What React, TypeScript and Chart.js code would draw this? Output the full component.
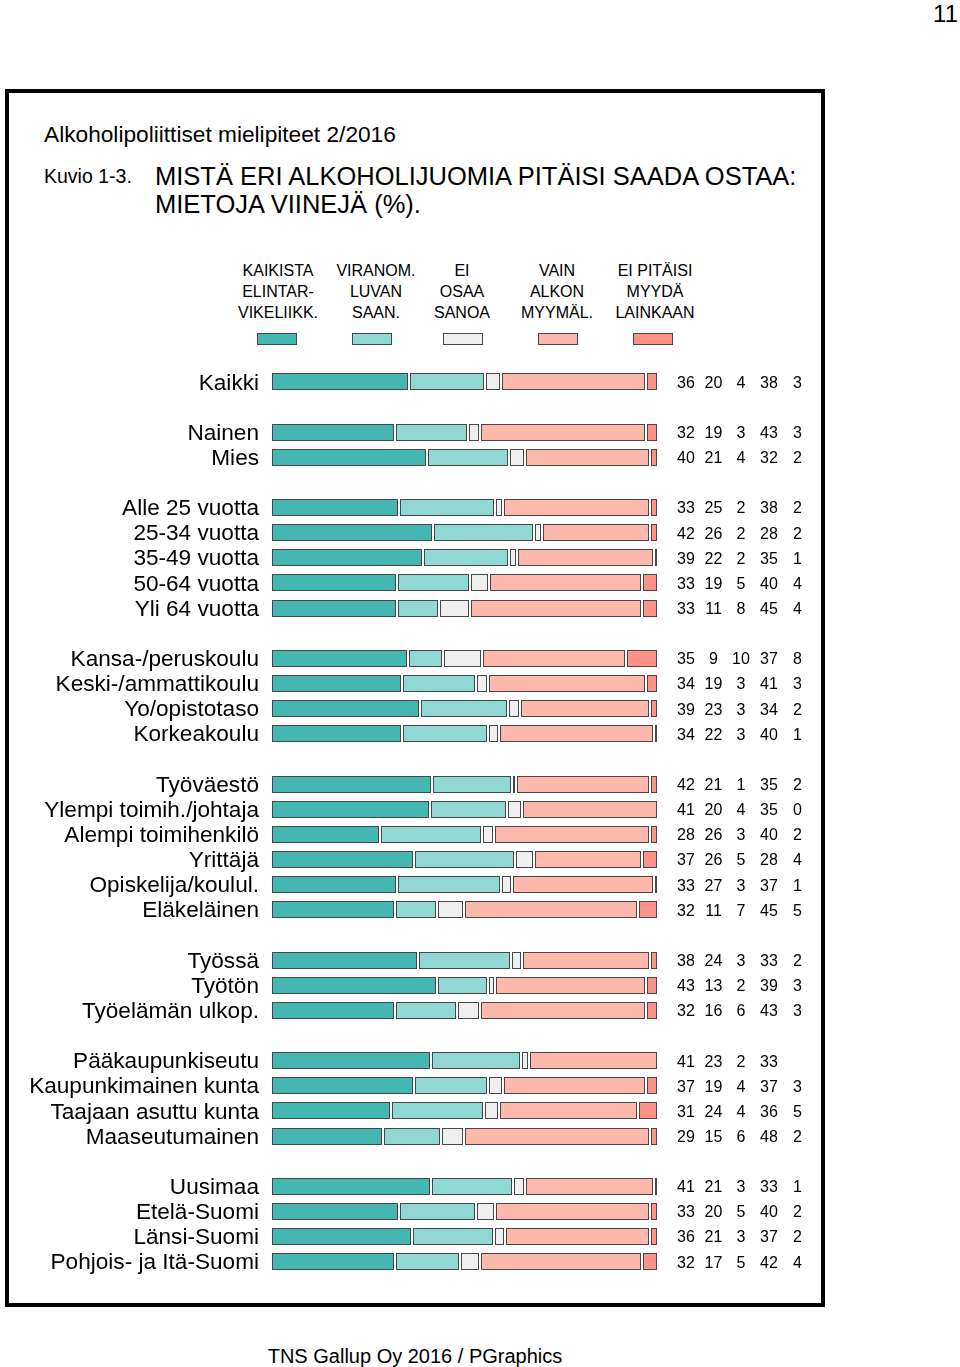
import React, { useEffect, useRef } from "react";
import { Chart, registerables } from "chart.js";

Chart.register(...registerables);

// ---------- DATA ----------
const rowLabels = [
  "Kaikki",
  "Nainen", "Mies",
  "Alle 25 vuotta", "25-34 vuotta", "35-49 vuotta", "50-64 vuotta", "Yli 64 vuotta",
  "Kansa-/peruskoulu", "Keski-/ammattikoulu", "Yo/opistotaso", "Korkeakoulu",
  "Työväestö", "Ylempi toimih./johtaja", "Alempi toimihenkilö", "Yrittäjä", "Opiskelija/koulul.", "Eläkeläinen",
  "Työssä", "Työtön", "Työelämän ulkop.",
  "Pääkaupunkiseutu", "Kaupunkimainen kunta", "Taajaan asuttu kunta", "Maaseutumainen",
  "Uusimaa", "Etelä-Suomi", "Länsi-Suomi", "Pohjois- ja Itä-Suomi",
];
const groupSizes = [1, 2, 5, 4, 6, 3, 4, 4];

const kaikista = [36, 32, 40, 33, 42, 39, 33, 33, 35, 34, 39, 34, 42, 41, 28, 37, 33, 32, 38, 43, 32, 41, 37, 31, 29, 41, 33, 36, 32];
const viranom = [20, 19, 21, 25, 26, 22, 19, 11, 9, 19, 23, 22, 21, 20, 26, 26, 27, 11, 24, 13, 16, 23, 19, 24, 15, 21, 20, 21, 17];
const eiOsaa = [4, 3, 4, 2, 2, 2, 5, 8, 10, 3, 3, 3, 1, 4, 3, 5, 3, 7, 3, 2, 6, 2, 4, 4, 6, 3, 5, 3, 5];
const vainAlko = [38, 43, 32, 38, 28, 35, 40, 45, 37, 41, 34, 40, 35, 35, 40, 28, 37, 45, 33, 39, 43, 33, 37, 36, 48, 33, 40, 37, 42];
const eiPitaisi: (number | null)[] = [3, 3, 2, 2, 2, 1, 4, 4, 8, 3, 2, 1, 2, 0, 2, 4, 1, 5, 2, 3, 3, null, 3, 5, 2, 1, 2, 2, 4];

const seriesNames = [
  ["KAIKISTA", "ELINTAR-", "VIKELIIKK."],
  ["VIRANOM.", "LUVAN", "SAAN."],
  ["EI", "OSAA", "SANOA"],
  ["VAIN", "ALKON", "MYYMÄL."],
  ["EI PITÄISI", "MYYDÄ", "LAINKAAN"],
];
const seriesValues: (number | null)[][] = [kaikista, viranom, eiOsaa, vainAlko, eiPitaisi];
const seriesColors = ["#44b7b2", "#8fd8d3", "#efefef", "#ffb8ac", "#ff9288"];

// ---------- STYLE ----------
const BORDER = "#474747";
const FONT = "'Liberation Sans', Arial, sans-serif";
const valueColX = [686, 713.5, 741, 769, 797.5];
const legendTextX = [278, 376, 462, 557, 655];
const legendBoxX = [277, 371.5, 462.5, 558, 653];

// slots (rows + blank gap rows)
const slotRows: number[] = [];
{
  let r = 0;
  groupSizes.forEach((g, gi) => {
    if (gi > 0) slotRows.push(-1);
    for (let k = 0; k < g; k++) slotRows.push(r++);
  });
}
const slotLabels = slotRows.map((r) => (r < 0 ? "" : rowLabels[r]));

const gapBarsPlugin = {
  id: "gapBars",
  beforeDatasetDraw(chart: any, args: any) {
    const meta = args.meta;
    const ds = chart.data.datasets[args.index];
    const ctx = chart.ctx;
    ctx.save();
    meta.data.forEach((el: any, i: number) => {
      const v = ds.data[i];
      if (v == null || v <= 0) return;
      const p = el.getProps(["x", "y", "base", "height"], true);
      const left = Math.round(Math.min(p.x, p.base)) + 1;
      const right = Math.round(Math.max(p.x, p.base)) - 1;
      const top = Math.round(p.y - p.height / 2);
      const h = Math.round(p.height);
      const w = right - left;
      if (w <= 0) return;
      ctx.fillStyle = ds.backgroundColor;
      ctx.fillRect(left, top, w, h);
      ctx.strokeStyle = BORDER;
      ctx.lineWidth = 1;
      ctx.strokeRect(left + 0.5, top + 0.5, w - 1, h - 1);
    });
    ctx.restore();
    return false;
  },
};

const valuesPlugin = {
  id: "valueCols",
  afterDraw(chart: any) {
    const ctx = chart.ctx;
    const yScale = chart.scales.y;
    ctx.save();
    ctx.font = `16px ${FONT}`;
    ctx.fillStyle = "#000";
    ctx.textAlign = "center";
    ctx.textBaseline = "middle";
    slotRows.forEach((r, si) => {
      if (r < 0) return;
      const y = yScale.getPixelForValue(si);
      seriesValues.forEach((vals, s) => {
        const v = vals[r];
        if (v == null) return;
        ctx.fillText(String(v), valueColX[s], y + 1.5);
      });
    });
    ctx.restore();
  },
};

function BarChart() {
  const ref = useRef<HTMLCanvasElement | null>(null);
  useEffect(() => {
    if (!ref.current) return;
    const datasets = seriesValues.map((vals, s) => ({
      label: seriesNames[s].join(" "),
      data: slotRows.map((r) => {
        if (r < 0) return null;
        const total = seriesValues.reduce((a, arr) => a + (arr[r] ?? 0), 0);
        return ((vals[r] ?? 0) / total) * 100;
      }),
      backgroundColor: seriesColors[s],
      borderWidth: 0,
      barThickness: 17,
    }));
    const chart = new Chart(ref.current, {
      type: "bar",
      data: { labels: slotLabels, datasets },
      options: {
        indexAxis: "y",
        animation: false,
        responsive: false,
        maintainAspectRatio: false,
        layout: { padding: { top: 9.2, bottom: 15.7, right: 172.3, left: 0 } },
        plugins: { legend: { display: false }, tooltip: { enabled: false } },
        scales: {
          x: { stacked: true, min: 0, max: 100, display: false },
          y: {
            stacked: true,
            grid: { display: false, drawTicks: false },
            border: { display: false },
            ticks: {
              autoSkip: false,
              padding: 12,
              labelOffset: 1.5,
              color: "#000",
              font: { size: 22.6, family: FONT },
            },
            afterFit: (scale: any) => {
              scale.width = 271;
              scale.paddingTop = 0;
              scale.paddingBottom = 0;
            },
          },
        },
      },
      plugins: [gapBarsPlugin, valuesPlugin],
    } as any);
    return () => chart.destroy();
  }, []);
  return (
    <canvas
      ref={ref}
      width={830}
      height={930}
      style={{ position: "absolute", left: 0, top: 360, width: 830, height: 930 }}
    />
  );
}

export default function App() {
  const txt = { position: "absolute" as const, fontFamily: FONT, color: "#000", whiteSpace: "nowrap" as const };
  return (
    <div style={{ position: "absolute", left: 0, top: 0, width: 960, height: 1367, background: "#fff", overflow: "hidden" }}>
      <div style={{ ...txt, right: 2, top: 0, fontSize: 24, lineHeight: "28px" }}>11</div>
      <div
        style={{
          position: "absolute",
          left: 5,
          top: 89,
          width: 820,
          height: 1218,
          border: "4px solid #000",
          boxSizing: "border-box",
        }}
      />
      <div style={{ ...txt, left: 44, top: 121, fontSize: 22.7, lineHeight: "26px" }}>
        Alkoholipoliittiset mielipiteet 2/2016
      </div>
      <div style={{ ...txt, left: 44, top: 165, fontSize: 19.5, lineHeight: "22px" }}>Kuvio 1-3.</div>
      <div style={{ ...txt, left: 155, top: 162, fontSize: 25.5, lineHeight: "28px" }}>
        MISTÄ ERI ALKOHOLIJUOMIA PITÄISI SAADA OSTAA:
        <br />
        MIETOJA VIINEJÄ (%).
      </div>
      {seriesNames.map((lines, s) => (
        <React.Fragment key={s}>
          <div
            style={{
              ...txt,
              left: legendTextX[s] - 60,
              width: 120,
              top: 259.5,
              fontSize: 16,
              lineHeight: "21px",
              textAlign: "center",
            }}
          >
            {lines.map((l, i) => (
              <div key={i}>{l}</div>
            ))}
          </div>
          <div
            style={{
              position: "absolute",
              left: legendBoxX[s] - 20,
              top: 333,
              width: 40,
              height: 12,
              background: seriesColors[s],
              border: `1px solid ${BORDER}`,
              boxSizing: "border-box",
            }}
          />
        </React.Fragment>
      ))}
      <BarChart />
      <div
        style={{
          ...txt,
          left: 265,
          width: 300,
          textAlign: "center",
          top: 1344,
          fontSize: 20,
          lineHeight: "24px",
        }}
      >
        TNS Gallup Oy 2016 / PGraphics
      </div>
    </div>
  );
}
